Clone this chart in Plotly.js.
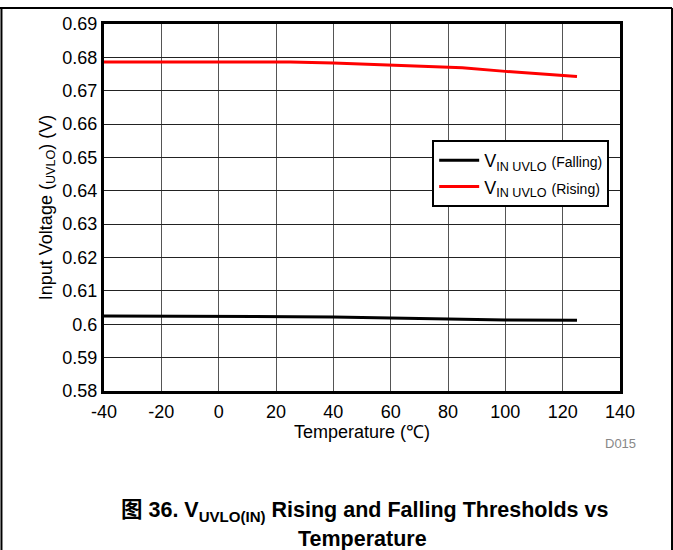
<!DOCTYPE html>
<html><head><meta charset="utf-8">
<script src="https://cdn.plot.ly/plotly-3.0.1.min.js"></script>
<style>body{margin:0;padding:0;background:#fff}#chart{width:673px;height:550px}</style>
</head><body><div id="chart"></div>
<script>
const temperature = [-40, 25, 40, 60, 85, 100, 125];
const vinFalling = [0.6025, 0.6024, 0.6022, 0.6019, 0.6015, 0.6013, 0.6012];
const vinRising = [0.6786, 0.6786, 0.6783, 0.6777, 0.6769, 0.6758, 0.6743];
const xTicks = [-40, -20, 0, 20, 40, 60, 80, 100, 120, 140];
const yTicks = [0.58, 0.59, 0.6, 0.61, 0.62, 0.63, 0.64, 0.65, 0.66, 0.67, 0.68, 0.69];
const yTickText = ['0.58','0.59','0.6','0.61','0.62','0.63','0.64','0.65','0.66','0.67','0.68','0.69'];

const font = 'Liberation Sans, Arial, sans-serif';
const data = [
  {x: temperature, y: vinFalling, mode: 'lines', name: 'V<sub>IN UVLO</sub> <span style="font-size:14px">(Falling)</span>',
   line: {color: '#000000', width: 3}},
  {x: temperature, y: vinRising, mode: 'lines', name: 'V<sub>IN UVLO</sub> <span style="font-size:14px">(Rising)</span>',
   line: {color: '#ff0000', width: 3}}
];
const layout = {
  width: 673, height: 550,
  margin: {l: 104, r: 53, t: 24, b: 159},
  paper_bgcolor: '#fff', plot_bgcolor: '#fff',
  font: {family: font, size: 18, color: '#000'},
  showlegend: true,
  legend: {x: 0.636, y: 0.684, xanchor: 'left', yanchor: 'top', bgcolor: '#fff', itemwidth: 40,
    bordercolor: '#000', borderwidth: 2, font: {size: 18, family: font}, tracegroupgap: 0},
  xaxis: {range: [-40, 140], tickvals: xTicks, ticktext: xTicks.map(String), showgrid: true,
    gridcolor: '#555', gridwidth: 1, zeroline: false, showline: true, linecolor: '#000', linewidth: 3, mirror: true,
    ticks: 'outside', ticklen: 2, tickcolor: '#fff', tickfont: {size: 18}, title: {text: 'Temperature (℃)', font: {size: 18}, standoff: 0}},
  yaxis: {range: [0.58, 0.69], tickvals: yTicks, ticktext: yTickText, showgrid: true,
    gridcolor: '#222', gridwidth: 1, zeroline: false, showline: true, linecolor: '#000', linewidth: 3, mirror: true,
    ticks: '', tickfont: {size: 18}, title: {text: 'Input Voltage (<sub>UVLO</sub>) (V)', font: {size: 18}, standoff: 6}},
  shapes: [
    {type: 'line', xref: 'paper', yref: 'paper', x0: -0.2016, x1: 1.1008, y0: 1.0436, y1: 1.0436, line: {color: '#000', width: 2}},
    {type: 'line', xref: 'paper', yref: 'paper', x0: -0.1987, x1: -0.1987, y0: 1.0436, y1: -0.45, line: {color: '#000', width: 2}},
    {type: 'line', xref: 'paper', yref: 'paper', x0: 1.1008, x1: 1.1008, y0: 1.0436, y1: -0.45, line: {color: '#000', width: 2}}
  ],
  annotations: [
    {xref: 'paper', yref: 'paper', x: 1.0, y: -0.143, xanchor: 'center', yanchor: 'middle', showarrow: false,
     text: 'D015', font: {size: 13, color: '#888'}},
    {xref: 'paper', yref: 'paper', x: 0.504, y: -0.327, xanchor: 'center', yanchor: 'middle', showarrow: false,
     text: '<b>图 36. V<sub>UVLO(IN)</sub> Rising and Falling Thresholds vs</b>', font: {size: 21.5, family: 'Liberation Sans, Noto Sans CJK SC, sans-serif'}},
    {xref: 'paper', yref: 'paper', x: 0.5, y: -0.402, xanchor: 'center', yanchor: 'middle', showarrow: false,
     text: '<b>Temperature</b>', font: {size: 21.5}}
  ]
};
Plotly.newPlot('chart', data, layout, {displayModeBar: false, staticPlot: true});
</script></body></html>
